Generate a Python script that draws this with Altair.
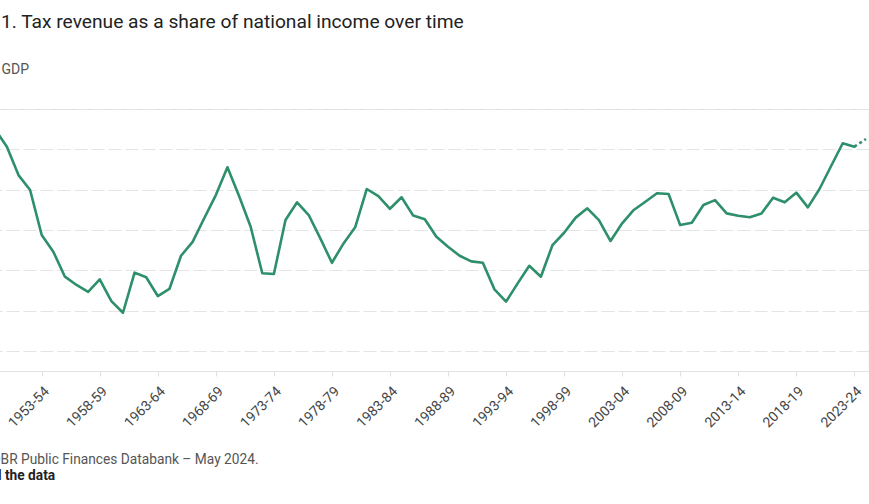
import altair as alt
import pandas as pd

# Fiscal years identified by their starting calendar year (1949 = 1949-50)
years = list(range(1949, 2025))
tax_share = [
    36.97, 36.13, 34.72, 33.98, 31.75, 30.92, 29.68, 29.27, 28.93, 29.55,
    28.47, 27.89, 29.88, 29.65, 28.72, 29.07, 30.72, 31.41, 32.58, 33.73,
    35.11, 33.68, 32.16, 29.85, 29.81, 32.49, 33.37, 32.74, 31.58, 30.37,
    31.33, 32.13, 34.03, 33.68, 33.05, 33.62, 32.71, 32.53, 31.66, 31.17,
    30.72, 30.44, 30.37, 29.05, 28.44, 29.35, 30.22, 29.68, 31.25, 31.86,
    32.61, 33.07, 32.49, 31.45, 32.33, 32.99, 33.40, 33.82, 33.78, 32.24,
    32.36, 33.24, 33.48, 32.82, 32.70, 32.63, 32.82, 33.60, 33.37, 33.85,
    33.12, 34.03, 35.17, 36.30, 36.13, 36.51,
]
last_outturn = 2023
tick_years = list(range(1953, 2024, 5))
y_ticks = list(range(26, 39, 2))

title_text = "Figure 1. Tax revenue as a share of national income over time"
axis_title = "% of GDP"
source_text = "Source: OBR Public Finances Databank \u2013 May 2024."
link_text = "Download the data"

df = pd.DataFrame({"year": years, "share": tax_share})
outturn = df[df["year"] <= last_outturn]
forecast = df[df["year"] >= last_outturn]

GREEN = "#2e8f6b"
FONT = "Roboto"

x_enc = alt.X(
    "year:Q",
    scale=alt.Scale(domain=[1947, 2024.25], nice=False, zero=False),
    axis=alt.Axis(
        values=tick_years,
        labelExpr="datum.value + '-' + substring(toString(datum.value + 1), 2, 4)",
        labelAngle=-45,
        labelAlign="right",
        labelBaseline="top",
        labelFont=FONT,
        labelFontSize=14,
        labelColor="#444444",
        labelPadding=8,
        tickSize=5,
        tickColor="#dddddd",
        domainColor="#e2e2e2",
        grid=False,
        title=None,
    ),
)
y_enc = alt.Y(
    "share:Q",
    scale=alt.Scale(domain=[25, 38], nice=False, zero=False),
    axis=alt.Axis(
        values=y_ticks,
        labels=False,
        domain=False,
        ticks=False,
        grid=True,
        gridColor="#e4e4e4",
        gridDash=[13, 4],
        gridWidth=1,
        title=axis_title,
        titleAngle=0,
        titleAlign="left",
        titleBaseline="alphabetic",
        titleX=-1,
        titleY=-36,
        titleFont=FONT,
        titleFontSize=14,
        titleFontWeight="normal",
        titleColor="#555555",
    ),
)

solid = alt.Chart(outturn).mark_line(
    color=GREEN, strokeWidth=2.6, strokeJoin="round", strokeCap="round"
).encode(x=x_enc, y=y_enc)

dotted = alt.Chart(forecast).mark_line(
    color=GREEN, strokeWidth=2.6, strokeDash=[3, 3]
).encode(x="year:Q", y="share:Q")

title_mark = alt.Chart(pd.DataFrame({"t": [title_text]})).mark_text(
    align="left", baseline="alphabetic", font=FONT, fontSize=19.2, color="#222222"
).encode(text="t:N", x=alt.value(-29.0), y=alt.value(-81))

source_mark = alt.Chart(pd.DataFrame({"t": [source_text]})).mark_text(
    align="left", baseline="alphabetic", font=FONT, fontSize=13.75, color="#555555"
).encode(text="t:N", x=alt.value(-30.2), y=alt.value(355.5))

link_mark = alt.Chart(pd.DataFrame({"t": [link_text]})).mark_text(
    align="left", baseline="alphabetic", font=FONT, fontSize=13.75,
    fontWeight="bold", color="#222222"
).encode(text="t:N", x=alt.value(-31.5), y=alt.value(371))

chart = alt.layer(solid, dotted, title_mark, source_mark, link_mark).properties(
    width=896.8,
    height=262,
    autosize=alt.AutoSizeParams(type="none"),
    padding={"left": -27.95, "top": 109, "right": 0, "bottom": 133},
).configure_view(stroke=None).configure(background="white")

chart.save("out.html", embed_options={"renderer": "svg", "actions": False})
